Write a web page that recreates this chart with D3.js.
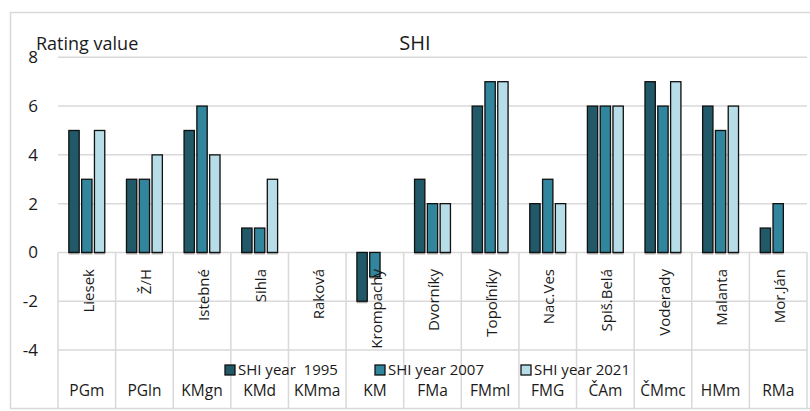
<!DOCTYPE html>
<html>
<head>
<meta charset="utf-8">
<script src="https://cdn.jsdelivr.net/npm/d3@7"></script>
<style>
  html, body { margin: 0; padding: 0; background: #fff; }
  svg { display: block; font-family: "Open Sans", "Noto Sans", sans-serif; }
  text { white-space: pre; }
</style>
</head>
<body>
<svg id="chart" width="810" height="411"></svg>
<script>
// ---- data ----
const sites = ["Liesek", "Ž/H", "Istebné", "Sihla", "Raková", "Krompachy", "Dvorníky", "Topoľníky", "Nac.Ves", "Spiš.Belá", "Voderady", "Malanta", "Mor.Ján"];
const units = ["PGm", "PGln", "KMgn", "KMd", "KMma", "KM", "FMa", "FMml", "FMG", "ČAm", "ČMmc", "HMm", "RMa"];
const seriesNames = ["SHI year  1995", "SHI year 2007", "SHI year 2021"];
const shi1995 = [5, 3, 5, 1, null, -2, 3, 6, 2, 6, 7, 6, 1];
const shi2007 = [3, 3, 6, 1, null, -1, 2, 7, 3, 6, 6, 5, 2];
const shi2021 = [5, 4, 4, 3, null, null, 2, 7, 2, 6, 7, 6, null];
const yTicks = [-4, -2, 0, 2, 4, 6, 8];
const colors = ["#215968", "#31859C", "#B7DEE8"];

const seriesValues = [shi1995, shi2007, shi2021];

const svg = d3.select("#chart");
const grid = "#d9d9d9";
const ink = "#1a1a1a";

// outer border
svg.append("rect").attr("x", 10.5).attr("y", 12.5).attr("width", 810).attr("height", 396)
  .attr("fill", "none").attr("stroke", grid).attr("stroke-width", 1.5);

const x = d3.scaleBand().domain(sites).range([58, 807]).paddingInner(0).paddingOuter(0);
const y = d3.scaleLinear().domain([-4, 8]).range([350, 57.3]);
const groupW = 35.9;
const xs = d3.scaleBand().domain(d3.range(3))
  .range([(x.bandwidth() - groupW) / 2, (x.bandwidth() + groupW) / 2])
  .paddingInner(0.195).paddingOuter(0);

// gridlines
svg.append("g").selectAll("line").data(yTicks).join("line")
  .attr("x1", 58).attr("x2", 807)
  .attr("y1", d => y(d)).attr("y2", d => y(d))
  .attr("stroke", grid).attr("stroke-width", 1.5);

// y tick labels
svg.append("g").selectAll("text").data(yTicks).join("text")
  .attr("x", 38).attr("y", d => y(d)).attr("dy", "0.35em")
  .attr("text-anchor", "end").attr("font-size", 17).attr("fill", ink)
  .text(d => d);

// category table vertical lines
const bounds = sites.map(s => x(s)).concat([807]);
svg.append("g").selectAll("line").data(bounds).join("line")
  .attr("x1", d => d).attr("x2", d => d)
  .attr("y1", y(0)).attr("y2", 409)
  .attr("stroke", grid).attr("stroke-width", 1.5);

// bars
const flat = [];
sites.forEach((s, i) => {
  seriesValues.forEach((arr, k) => {
    if (arr[i] !== null) flat.push({ s, k, v: arr[i] });
  });
});
const bars = svg.append("g");
bars.selectAll("rect.shadow").data(flat).join("rect").attr("class", "shadow")
  .attr("x", d => x(d.s) + xs(d.k) - 0.3)
  .attr("y", d => Math.min(y(0), y(d.v)) + 0.5)
  .attr("width", xs.bandwidth() + 0.6)
  .attr("height", d => Math.abs(y(d.v) - y(0)) + 1.5)
  .attr("fill", "#aaa");
bars.selectAll("rect.bar").data(flat).join("rect").attr("class", "bar")
  .attr("x", d => x(d.s) + xs(d.k))
  .attr("y", d => Math.min(y(0), y(d.v)))
  .attr("width", xs.bandwidth())
  .attr("height", d => Math.abs(y(d.v) - y(0)))
  .attr("fill", d => colors[d.k])
  .attr("stroke", "#111").attr("stroke-width", 1.3);

// level-1 category labels (rotated)
svg.append("g").selectAll("text").data(sites).join("text")
  .attr("transform", d => `translate(${x(d) + x.bandwidth() / 2 + 1.5},269) rotate(-90)`)
  .attr("text-anchor", "end").attr("dy", "0.35em")
  .attr("font-size", 15).attr("fill", ink)
  .text(d => d);

// level-2 category labels
svg.append("g").selectAll("text").data(units).join("text")
  .attr("x", (d, i) => x(sites[i]) + x.bandwidth() / 2)
  .attr("y", 391).attr("dy", "0.35em")
  .attr("text-anchor", "middle").attr("font-size", 15.5).attr("fill", ink)
  .text(d => d);

// titles
svg.append("text").attr("x", 415).attr("y", 50).attr("text-anchor", "middle")
  .attr("font-size", 20).attr("fill", ink).text("SHI");
svg.append("text").attr("x", 36).attr("y", 50)
  .attr("font-size", 18).attr("fill", ink).text("Rating value");

// legend
const legX = [225, 375, 521];
const leg = svg.append("g").selectAll("g").data(seriesNames).join("g")
  .attr("transform", (d, i) => `translate(${legX[i]},370)`);
leg.append("rect").attr("x", 0).attr("y", -5).attr("width", 10).attr("height", 10)
  .attr("fill", (d, i) => colors[i]).attr("stroke", "#111").attr("stroke-width", 1.3);
leg.append("text").attr("x", 13).attr("y", 0).attr("dy", "0.35em")
  .attr("font-size", 15).attr("fill", ink).text(d => d);
</script>
</body>
</html>
